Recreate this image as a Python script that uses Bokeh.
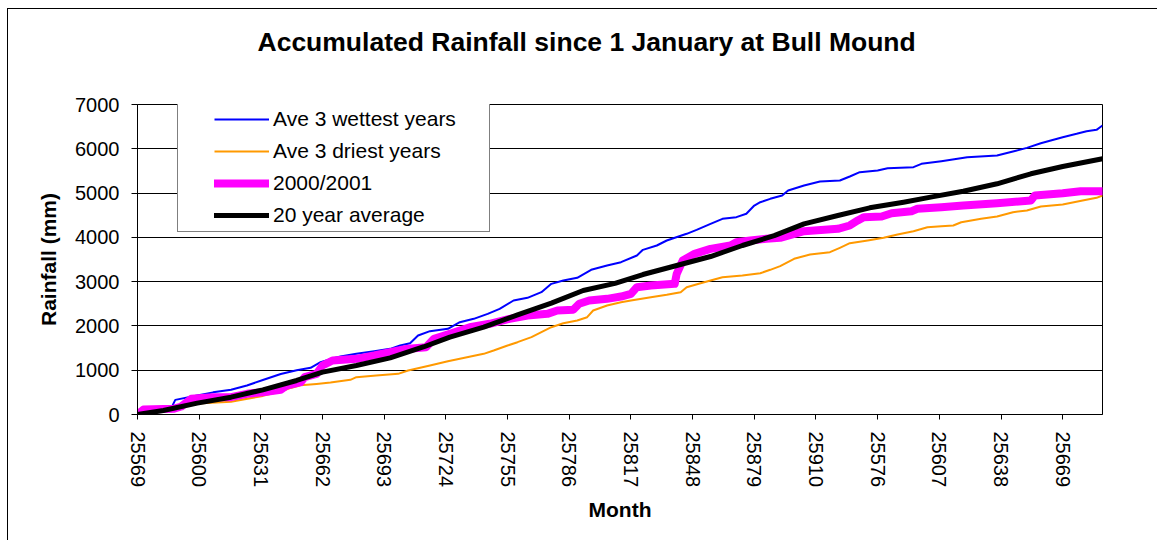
from bokeh.plotting import figure
from bokeh.models import FixedTicker, Legend, LegendItem, Title
from bokeh.embed import file_html
from bokeh.resources import INLINE

FONT = "Liberation Sans"

# x axis: day categories (category index along the axis), labels shown every 31 categories
tick_index = [0, 31, 62, 93, 124, 155, 186, 217, 248, 279, 310, 341, 372, 403, 434, 465]
tick_labels = ["25569", "25600", "25631", "25662", "25693", "25724", "25755", "25786",
               "25817", "25848", "25879", "25910", "25576", "25607", "25638", "25669"]
last_index = 485
y_ticks = [0, 1000, 2000, 3000, 4000, 5000, 6000, 7000]

# Ave 3 wettest years
blue_idx = [0, 9, 17, 19, 30, 38, 47, 55, 63, 72, 80, 87, 92, 99, 102, 110, 119, 127, 132, 137,
            141, 147, 156, 162, 169, 176, 182, 189, 196, 203, 208, 214, 221, 228, 236, 243, 251, 254, 261, 266,
            276, 281, 288, 294, 301, 306, 310, 313, 318, 324, 327, 335, 343, 353, 358, 363, 372, 377, 390, 394,
            404, 417, 432, 440, 447, 454, 459, 465, 472, 477, 482, 485]
blue_val = [0, 100, 150, 330, 430, 500, 560, 655, 780, 915, 1000, 1054, 1181, 1279, 1310, 1370, 1430, 1483, 1558, 1610,
            1784, 1882, 1935, 2085, 2160, 2273, 2386, 2574, 2634, 2762, 2950, 3026, 3086, 3267, 3364, 3440, 3590, 3718, 3816, 3929,
            4080, 4170, 4306, 4419, 4456, 4532, 4719, 4794, 4870, 4945, 5058, 5171, 5261, 5284, 5374, 5472, 5510, 5562, 5585, 5660,
            5720, 5810, 5848, 5938, 6021, 6126, 6187, 6262, 6338, 6398, 6428, 6526]

# Ave 3 driest years
orange_idx = [0, 30, 47, 63, 72, 77, 82, 90, 97, 107, 110, 120, 131, 136, 147, 156, 162, 174, 179, 186,
              191, 198, 203, 208, 214, 221, 226, 229, 236, 243, 248, 258, 266, 273, 276, 283, 288, 294, 304, 313,
              318, 323, 330, 338, 348, 353, 358, 367, 375, 382, 390, 397, 404, 410, 414, 424, 432, 440, 447, 454,
              465, 475, 482, 485]
orange_val = [0, 250, 290, 420, 520, 600, 660, 690, 720, 783, 843, 880, 918, 993, 1106, 1204, 1257, 1370, 1445, 1558,
              1633, 1746, 1858, 1971, 2062, 2122, 2197, 2348, 2461, 2536, 2574, 2649, 2702, 2762, 2875, 2965, 3026, 3100, 3139, 3190,
              3267, 3350, 3516, 3613, 3665, 3764, 3868, 3929, 3990, 4064, 4139, 4229, 4252, 4268, 4342, 4419, 4471, 4568, 4606, 4697,
              4742, 4832, 4893, 4945]

# 2000/2001
mag_idx = [0, 3, 18, 22, 27, 38, 47, 55, 63, 72, 75, 82, 84, 90, 93, 98, 110, 119, 127, 135,
           145, 149, 157, 167, 177, 187, 196, 206, 211, 219, 222, 227, 236, 243, 248, 251, 258, 270, 271, 274,
           280, 288, 298, 301, 308, 316, 323, 335, 352, 358, 362, 365, 374, 379, 389, 392, 404, 415, 432, 449,
           451, 465, 474, 485]
mag_val = [0, 113, 128, 180, 354, 391, 391, 467, 504, 557, 655, 730, 843, 918, 1106, 1219, 1257, 1332, 1407, 1480,
           1520, 1709, 1822, 1971, 2048, 2160, 2235, 2273, 2348, 2364, 2500, 2574, 2612, 2664, 2725, 2875, 2913, 2950, 3177, 3477,
           3628, 3741, 3816, 3891, 3929, 3967, 3990, 4139, 4193, 4268, 4381, 4456, 4471, 4546, 4591, 4644, 4681, 4719, 4771, 4832,
           4945, 4997, 5043, 5043]

# 20 year average
black_idx = [0, 13, 30, 47, 63, 80, 93, 110, 127, 144, 157, 174, 191, 208, 224, 240, 254, 271, 288, 304,
             320, 335, 352, 368, 385, 400, 415, 432, 449, 465, 485]
black_val = [0, 90, 256, 391, 557, 768, 956, 1106, 1279, 1530, 1746, 1971, 2251, 2514, 2800, 2960, 3161, 3364, 3567, 3816,
             4040, 4306, 4494, 4667, 4794, 4920, 5040, 5209, 5435, 5600, 5774]

W, H = 1150, 532
p = figure(width=W, height=H, x_range=(0, last_index), y_range=(0, 7000),
           output_backend="svg", toolbar_location=None,
           min_border_left=129, min_border_right=56, min_border_top=95, min_border_bottom=127)
p.styles = {"margin-left": "7px", "margin-top": "8px",
            "border-left": "1px solid black", "border-top": "1px solid black"}
p.background_fill_color = "white"
p.border_fill_color = "white"
p.outline_line_color = "black"
p.outline_line_width = 1

# spacer between title and plot frame (inner above-panel)
p.add_layout(Title(text=" ", text_font_size="1px", standoff=29), "above")

p.title.text = "Accumulated Rainfall since 1 January at Bull Mound"
p.title.text_font = FONT
p.title.text_font_size = "26.5px"
p.title.text_font_style = "bold"
p.title.text_color = "black"
p.title.align = "left"
p.title.offset = 120
p.title.standoff = 31

p.xgrid.visible = False
p.ygrid.ticker = FixedTicker(ticks=y_ticks)
p.ygrid.grid_line_color = "black"
p.ygrid.grid_line_width = 1

xa = p.xaxis[0]
xa.ticker = FixedTicker(ticks=tick_index, minor_ticks=[])
xa.major_label_overrides = {i: lab for i, lab in zip(tick_index, tick_labels)}
xa.major_label_orientation = "vertical"
xa.axis_label = "Month"

ya = p.yaxis[0]
ya.ticker = FixedTicker(ticks=y_ticks, minor_ticks=[])
ya.axis_label = "Rainfall (mm)"

for ax in (xa, ya):
    ax.axis_line_color = "black"
    ax.major_tick_line_color = "black"
    ax.minor_tick_line_color = None
    ax.major_tick_in = 0
    ax.major_label_text_font = FONT
    ax.major_label_text_font_size = "20px"
    ax.major_label_text_color = "black"
    ax.axis_label_text_font = FONT
    ax.axis_label_text_font_size = "21px"
    ax.axis_label_text_font_style = "bold"
    ax.axis_label_text_color = "black"
xa.major_tick_out = 5
xa.major_label_standoff = 12
xa.axis_label_standoff = 8
ya.major_tick_out = 6
ya.major_label_standoff = 12
ya.axis_label_standoff = 12

r_blue = p.line(blue_idx, blue_val, line_color="#0000FF", line_width=2, line_join="round")
r_orange = p.line(orange_idx, orange_val, line_color="#FF9900", line_width=2, line_join="round")
r_mag = p.line(mag_idx, mag_val, line_color="#FF00FF", line_width=8, line_join="round", line_cap="round")
r_black = p.line(black_idx, black_val, line_color="black", line_width=5, line_join="round", line_cap="round")

legend = Legend(items=[
    LegendItem(label="Ave 3 wettest years", renderers=[r_blue]),
    LegendItem(label="Ave 3 driest years", renderers=[r_orange]),
    LegendItem(label="2000/2001", renderers=[r_mag]),
    LegendItem(label="20 year average", renderers=[r_black]),
], location=(40, 182))
legend.border_line_color = "black"
legend.border_line_width = 1
legend.background_fill_color = "white"
legend.background_fill_alpha = 1.0
legend.label_text_font = FONT
legend.label_text_font_size = "21px"
legend.label_text_color = "black"
legend.glyph_width = 55
legend.glyph_height = 24
legend.label_height = 24
legend.spacing = 8
legend.label_standoff = 4
legend.margin = 0
try:
    legend.padding = dict(left=36, right=33, top=11, bottom=4)
except Exception:
    legend.padding = 5
p.add_layout(legend)

open("out.html", "w").write(file_html(p, INLINE))
